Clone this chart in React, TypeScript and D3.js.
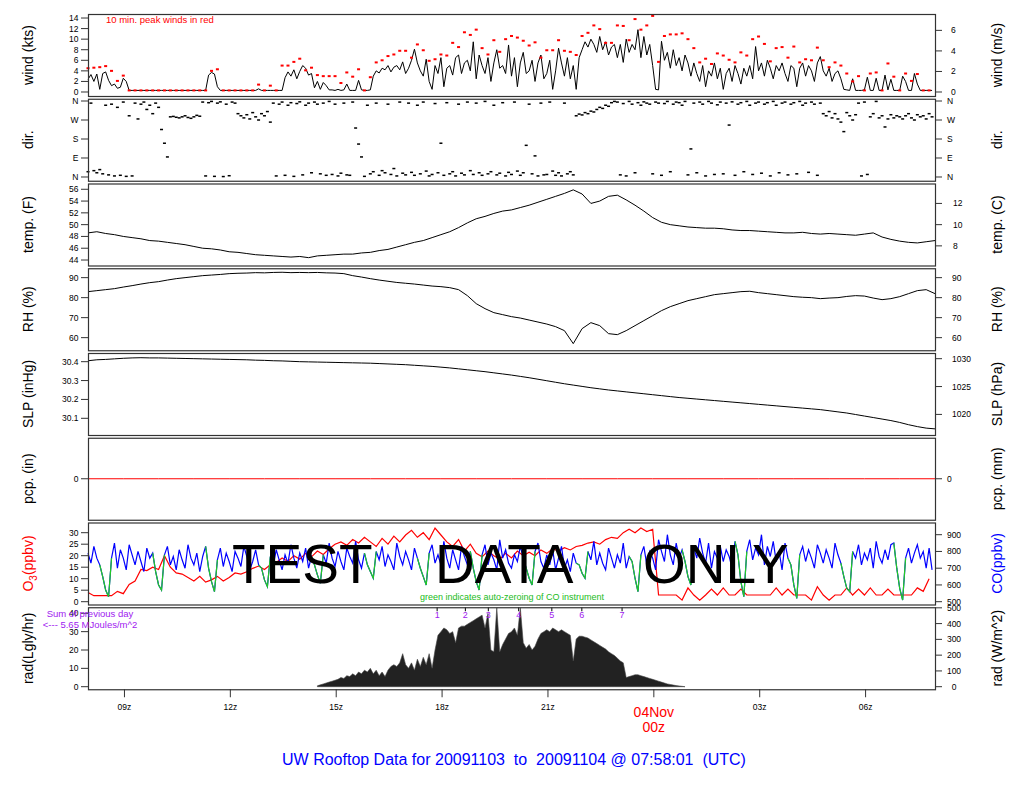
import React from "react";
import * as d3 from "d3";

// ---------------- time base (hours UTC since 00z 03 Nov 2009) ----------------
const startHour = 7.967; // 07:58 03 Nov
const endHour = 31.967; // 07:58 04 Nov

// ---------------- wind speed (kts), 5-min samples ----------------
const windKts = [
  2.4, 3.3, 2.0, 3.4, 0.5, 3.5, 3.8, 2.2, 1.2, 1.5, 0.7, 0.9, 2.6, 2.0,
  0.3, 0.3, 0.3, 0.3, 0.3, 0.3, 0.3, 0.3, 0.3, 0.3, 0.3, 0.3, 0.3, 0.3, 0.3, 0.3, 0.3, 0.3, 0.3, 0.3, 0.3, 0.3, 0.3, 0.3, 0.3, 0.3, 0.3,
  3.2, 3.7, 3.4, 1.0,
  0.3, 0.3, 0.3, 0.3, 0.3, 0.3, 0.3, 0.3, 0.3, 0.3, 0.3, 0.3, 0.3, 0.6, 0.3, 0.3, 0.3, 0.3, 0.3, 0.3, 0.3, 0.3,
  2.7, 3.8, 3.0, 4.2, 2.5, 3.9, 5.0, 4.5, 3.2, 3.5, 0.8, 2.0, 0.5, 1.8, 1.2, 0.4, 0.4, 0.3, 0.5,
  0.3, 0.4, 1.5, 0.3, 0.3, 0.3, 2.2, 0.4, 0.3, 0.3, 0.4, 3.0,
  4.0, 3.6, 4.5, 4.2, 5.0, 3.8, 4.7, 5.0, 4.2, 5.7, 3.5,
  4.5, 6.0, 8.1, 5.5, 4.0, 3.0, 6.2, 2.0, 0.5, 5.0, 3.5, 6.5, 1.0, 4.5, 5.0, 3.2, 6.5,
  7.0, 3.5, 5.5, 6.0, 4.0, 9.5, 2.5, 7.0, 5.0, 3.5, 6.5, 2.0, 5.5, 8.0, 4.5,
  5.0, 3.5, 8.9, 3.0, 6.5, 1.0, 5.5, 7.5, 3.5, 4.0, 6.0, 2.0, 5.5, 7.0, 2.5, 3.5, 6.0, 0.5, 4.0, 8.3, 5.5, 3.0, 6.5, 2.5, 5.0, 0.5, 6.5,
  8.0, 9.5, 8.5, 10.0, 9.0, 7.5, 10.5, 8.0, 9.5, 7.0, 8.5, 9.0, 6.5, 9.0, 5.6, 10.0, 7.5, 9.0, 8.0, 11.8, 6.5, 10.5, 7.0, 9.0, 5.0, 0.5,
  0.4, 9.6, 6.0, 7.5, 4.5, 8.0, 5.0, 6.5, 4.0, 7.0, 5.5, 3.0, 5.5,
  3.5, 2.0, 5.0, 1.0, 4.0, 3.0, 5.5, 2.5, 4.5, 0.5, 3.5, 4.5, 2.0, 5.0, 3.5, 1.5, 4.5, 3.0, 5.0, 2.5,
  8.6, 4.0, 5.5, 3.0, 6.0, 4.5, 2.5, 5.0, 4.0, 5.5, 3.5, 2.0, 5.0, 4.5, 1.0, 4.5, 5.5, 3.0, 5.0, 4.0, 2.0, 5.5, 6.7,
  4.0, 3.0, 4.5, 2.0, 3.5, 4.0, 2.5, 0.5, 0.4, 0.3, 2.5,
  0.3, 0.3, 0.3, 0.4, 2.8, 0.3, 0.3, 2.6, 0.3, 0.3, 3.2, 0.4, 2.4, 0.3, 0.3, 0.3, 3.0, 2.0, 0.3, 0.3, 3.5, 1.5, 0.3, 0.3, 0.3, 0.3, 0.3,
];

// ---------------- 10-min peak gusts (kts) ----------------
const peakKts = [
  4.5, 4.6, 4.7, 4.9, 4.0, 2.1, 3.1, 0.3, 0.3, 0.3,
  0.3, 0.3, 0.3, 0.3, 0.3, 0.3, 0.3, 0.3, 0.3, 0.3,
  0.3, 4.0, 4.3, 0.3, 0.3, 0.3, 0.3, 0.3, 0.3, 1.4,
  0.3, 1.2, 0.3, 5.0, 5.0, 5.7, 6.3, 4.1, 4.6, 3.2,
  3.0, 3.0, 3.0, 1.7, 3.7, 2.9, 4.3, 0.3, 2.8, 5.6,
  6.0, 6.8, 7.1, 7.8, 7.8, 6.5, 9.0, 7.9, 5.9, 6.2,
  7.1, 6.9, 9.3, 8.5, 11.3, 10.8, 11.8, 8.3, 7.1, 9.8,
  7.6, 10.0, 10.6, 10.3, 9.7, 8.8, 9.4, 6.5, 7.9, 7.9,
  9.8, 7.8, 7.6, 7.0, 10.6, 11.2, 12.6, 11.9, 9.3, 9.3,
  12.6, 12.5, 9.8, 13.8, 11.8, 12.6, 14.4, 5.7, 10.6, 10.9,
  10.9, 11.1, 10.0, 8.3, 5.6, 6.3, 5.3, 7.3, 6.9, 6.1,
  5.6, 7.5, 6.9, 10.0, 10.5, 9.1, 5.8, 8.3, 8.5, 6.5,
  8.6, 5.6, 6.2, 6.0, 8.4, 6.0, 4.7, 5.6, 5.0, 3.5,
  2.0, 3.0, 0.3, 3.5, 3.7, 0.3, 5.4, 2.9, 0.3, 3.5,
  2.1, 3.4, 0.3, 0.3,
];

// ---------------- wind direction (deg), 5-min samples ----------------
const windDir = [
  25, 350, 30, 20, 35, 15, 340, 10, 345, 5, 330, 8,
  355, 3, 290, 5, 350, 275, 345, 355, 320, 340, 300, 350,
  330, 225, 160, 95, 285, 287, 283, 280, 285, 290, 282, 278,
  285, 292, 288, 355, 5, 352, 358, 3, 350, 356, 2, 345,
  6, 355, 350, 300, 290, 280, 295, 275, 305, 285, 270, 300,
  290, 310, 260, 350, 5, 345, 355, 8, 340, 352, 3, 348,
  356, 10, 340, 350, 20, 355, 345, 15, 350, 8, 358, 12,
  345, 5, 18, 350, 10, 8, 355, 232, 156, 95, 3, 340,
  15, 25, 350, 8, 30, 20, 345, 12, 40, 5, 355, 18,
  10, 350, 22, 8, 340, 15, 355, 28, 5, 12, 348, 20,
  160, 8, 352, 15, 25, 5, 345, 18, 10, 355, 30, 12,
  350, 20, 8, 358, 15, 25, 340, 10, 18, 352, 5, 22,
  12, 355, 28, 8, 20, 150, 345, 15, 100, 5, 350, 10,
  12, 355, 28, 8, 20, 5, 350, 15, 25, 10, 290, 298,
  294, 305, 300, 312, 308, 320, 330, 325, 340, 335, 352, 358,
  355, 10, 348, 5, 358, 345, 20, 352, 340, 356, 350, 345,
  15, 355, 350, 8, 348, 358, 25, 345, 355, 352, 340, 358,
  10, 133, 350, 20, 355, 345, 5, 358, 350, 12, 342, 355,
  15, 350, 246, 356, 8, 345, 352, 25, 358, 340, 12, 350,
  355, 18, 345, 352, 5, 358, 340, 20, 350, 355, 10, 345,
  352, 15, 358, 340, 350, 22, 355, 345, 8, 350, 300, 290,
  310, 280, 300, 275, 260, 215, 305, 290, 270, 295, 350, 5,
  355, 12, 285, 300, 358, 280, 290, 237, 275, 295, 280, 290,
  285, 275, 290, 300, 280, 270, 295, 285, 290, 275, 300, 285,
];

// ---------------- temperature (F), RH (%), SLP (inHg), 15-min samples ----------------
const tempF = [
  48.6, 48.8, 48.5, 48.3, 48.0, 47.8, 47.6, 47.3, 47.2, 47.0,
  46.8, 46.6, 46.3, 46.0, 45.9, 45.7, 45.4, 45.3, 45.1, 44.9,
  44.8, 44.7, 44.6, 44.5, 44.6, 44.4, 44.7, 44.8, 44.9, 45.0,
  45.0, 45.2, 45.3, 45.6, 45.8, 46.2, 46.6, 47.0, 47.3, 47.8,
  48.3, 48.8, 49.5, 50.3, 51.0, 51.4, 51.9, 52.3, 52.5, 52.9,
  53.3, 53.8, 54.3, 54.8, 55.3, 55.9, 55.2, 53.6, 54.0, 54.8,
  55.0, 54.2, 53.3, 52.3, 51.2, 50.4, 50.0, 49.8, 49.6, 49.5,
  49.4, 49.4, 49.3, 49.1, 49.0, 49.0, 48.9, 48.8, 48.7, 48.6,
  48.6, 48.7, 48.5, 48.4, 48.5, 48.4, 48.3, 48.2, 48.4, 48.6,
  47.9, 47.5, 47.2, 47.0, 46.9, 47.1, 47.3,
];
const rhPct = [
  83.0, 83.5, 84.0, 84.5, 85.3, 86.0, 86.8, 87.5, 88.0, 88.8,
  89.5, 90.0, 90.5, 91.0, 91.3, 91.6, 92.0, 92.2, 92.3, 92.5,
  92.4, 92.6, 92.7, 92.5, 92.6, 92.5, 92.6, 92.4, 92.3, 92.0,
  91.0, 90.3, 89.5, 88.8, 88.2, 87.6, 87.2, 86.8, 86.3, 85.8,
  85.5, 85.0, 84.0, 81.0, 77.0, 74.5, 72.5, 71.5, 70.5, 69.8,
  68.8, 67.8, 66.8, 65.5, 63.5, 57.0, 64.5, 67.5, 66.0, 62.0,
  61.5, 63.5, 66.0, 68.5, 71.0, 73.5, 75.5, 77.0, 78.5, 79.5,
  80.5, 81.5, 82.0, 82.5, 83.0, 83.2, 82.5, 82.0, 81.5, 81.0,
  80.5, 80.2, 80.0, 79.5, 79.8, 80.0, 80.6, 81.0, 80.8, 79.8,
  79.0, 79.5, 80.5, 82.0, 83.5, 84.0, 82.0,
];
const slpInHg = [
  30.405, 30.41, 30.412, 30.415, 30.418, 30.42, 30.421, 30.42, 30.42, 30.419,
  30.418, 30.417, 30.416, 30.415, 30.414, 30.413, 30.412, 30.411, 30.41, 30.408,
  30.407, 30.405, 30.404, 30.402, 30.4, 30.399, 30.398, 30.397, 30.396, 30.395,
  30.394, 30.393, 30.392, 30.39, 30.388, 30.386, 30.384, 30.381, 30.378, 30.375,
  30.371, 30.367, 30.362, 30.357, 30.352, 30.347, 30.341, 30.335, 30.329, 30.322,
  30.315, 30.307, 30.299, 30.291, 30.283, 30.276, 30.269, 30.262, 30.256, 30.25,
  30.245, 30.24, 30.235, 30.23, 30.225, 30.22, 30.215, 30.21, 30.206, 30.202,
  30.198, 30.194, 30.19, 30.186, 30.182, 30.178, 30.174, 30.17, 30.166, 30.162,
  30.158, 30.154, 30.15, 30.146, 30.14, 30.134, 30.128, 30.12, 30.112, 30.104,
  30.096, 30.088, 30.078, 30.066, 30.056, 30.048, 30.044,
];

// ---------------- precipitation (in), hourly ----------------
const pcpIn = [0, 0, 0, 0, 0, 0, 0, 0, 0, 0, 0, 0, 0, 0, 0, 0, 0, 0, 0, 0, 0, 0, 0, 0, 0];

// ---------------- ozone (ppbv), 10-min samples ----------------
const o3Ppbv = [
  4, 2.6, 2.6, 2.6, 2.6, 4.5, 3.5, 7.5, 9.0, 14,
  13.5, 15, 14, 20, 15, 12.5, 12, 10.5, 9, 11,
  8.5, 9.5, 11, 9, 10.5, 12.5, 12, 13, 14.5, 15.5,
  14, 16, 17, 19, 17.5, 20, 18.5, 21, 19.5, 22,
  20.5, 23, 25, 26, 24.5, 27, 25.5, 28, 26, 24,
  27.5, 25, 28.5, 26, 29, 31, 28, 30, 27, 32,
  29, 26, 24, 27, 22, 25, 21, 19.5, 22, 20,
  18.5, 21, 19, 22, 20, 21.5, 20, 22.5, 21, 23,
  22, 23.5, 22.5, 24, 24.5, 25.5, 26, 25, 27, 28,
  27.5, 30, 31.5, 30, 32, 30.5, 31.5, 2.9, 2.9, 2.9,
  2.9, 0.7, 6.0, 2.9, 0.7, 2.9, 5.5, 2.9, 6.0, 2.9,
  2.9, 5.5, 2.9, 2.9, 2.9, 2.9, 2.9, 6.0, 2.9, 5.5,
  2.9, 2.9, 2.9, 0.7, 6.5, 2.9, 0.7, 2.9, 2.9, 6.0,
  2.9, 5.5, 2.9, 6.0, 2.9, 2.9, 5.5, 2.9, 2.9, 2.9,
  2.9, 6.0, 4.5, 10,
];

// ---------------- CO (ppbv), 5-min samples ----------------
const coPpbv = [
  790, 730, 830, 760, 720, 650, 570, 530, 760, 850, 700, 810,
  760, 690, 840, 780, 720, 800, 740, 680, 820, 760, 790, 680,
  600, 570, 780, 830, 720, 770, 690, 810, 750, 700, 840, 760,
  720, 790, 680, 770, 830, 700, 620, 560, 750, 820, 710, 790,
  740, 680, 800, 760, 710, 830, 770, 690, 740, 810, 720, 700,
  630, 590, 770, 720, 810, 750, 690, 780, 730, 840, 760, 700,
  790, 740, 820, 700, 770, 720, 660, 610, 780, 730, 850, 760,
  710, 800, 740, 690, 820, 770, 730, 860, 750, 700, 790, 720,
  680, 640, 800, 750, 830, 710, 780, 740, 690, 850, 770, 720,
  800, 750, 690, 820, 760, 700, 650, 600, 790, 840, 730, 780,
  720, 860, 760, 700, 810, 750, 690, 830, 770, 720, 800, 700,
  620, 570, 780, 840, 720, 790, 750, 690, 870, 760, 810, 730,
  700, 780, 740, 830, 760, 700, 640, 600, 800, 850, 740, 700,
  780, 720, 810, 690, 760, 830, 700, 750, 680, 790, 730, 720,
  670, 640, 800, 750, 860, 720, 790, 730, 690, 820, 760, 700,
  780, 730, 850, 700, 770, 740, 640, 560, 780, 830, 720, 800,
  760, 690, 870, 800, 740, 900, 780, 720, 850, 760, 810, 740,
  650, 600, 820, 760, 880, 790, 730, 850, 700, 800, 760, 830,
  740, 810, 770, 700, 860, 780, 620, 530, 800, 870, 750, 820,
  780, 900, 720, 830, 770, 860, 740, 800, 690, 850, 760, 720,
  600, 520, 780, 830, 740, 810, 760, 700, 840, 790, 730, 810,
  760, 700, 850, 780, 730, 650, 580, 560, 800, 760, 840, 720,
  790, 750, 820, 700, 860, 770, 730, 810, 750, 840, 850, 700,
  580, 510, 760, 820, 730, 790, 840, 760, 800, 700, 820, 690,
];
// start times (hours UTC) of the CO auto-zeroing cycles
const coZeroHours = [8.33, 9.83, 11.33, 12.83, 14.33, 15.83, 17.33, 18.83, 20.33, 21.83, 23.33, 24.83, 26.33, 27.83, 29.33, 30.83];

// ---------------- solar radiation (ly/hr), 5-min samples from radStartHour ----------------
const radStartHour = 14.467;
const radLyHr = [
  0.5, 1, 1.5, 2, 2.5, 3, 3.5, 4, 5, 4.5,
  6, 5.5, 7, 6, 8, 7, 9, 8, 10, 7,
  9, 6, 8, 5.5, 9, 11, 12, 11, 13, 18,
  12, 10, 13, 9, 15, 11, 16, 12, 18, 10,
  20, 28, 30, 32, 31, 29, 30, 24, 32, 33,
  33, 34, 35, 36, 37, 38, 39, 32, 40, 20,
  19, 43, 19, 23, 26, 29, 30, 32, 28, 43,
  24, 21, 23, 20, 22, 26, 29, 30, 31, 30,
  32, 31, 30, 31, 30, 29, 28, 14, 26, 27.5,
  27.5, 27, 26.5, 25.5, 24.5, 23.5, 22.5, 21.5, 20.5, 19,
  18, 17, 15.5, 14, 13, 5, 5.5, 6, 6.5, 6.5,
  6, 5.5, 5, 4.5, 4, 3.5, 3, 2.5, 2, 1.5,
  1.2, 0.9, 0.6, 0.4, 0.2, 0,
];
const photoHours = [17.86, 18.66, 19.31, 20.17, 21.11, 21.96, 23.1];
const photoLabels = ["1", "2", "3", "4", "5", "6", "7"];

// ---------------- axis ticks ----------------
const xTickHours = [9, 12, 15, 18, 21, 24, 27, 30];
const xTickLabels = ["09z", "12z", "15z", "18z", "21z", "00z", "03z", "06z"];
const windTicksKts = [0, 2, 4, 6, 8, 10, 12, 14];
const windTicksMs = [0, 2, 4, 6];
const dirTicks = [0, 90, 180, 270, 360];
const dirLabels = ["N", "E", "S", "W", "N"];
const tempTicksF = [44, 46, 48, 50, 52, 54, 56];
const tempTicksC = [8, 10, 12];
const rhTicks = [60, 70, 80, 90];
const slpTicksIn = [30.1, 30.2, 30.3, 30.4];
const slpTicksHpa = [1020, 1025, 1030];
const o3Ticks = [0, 5, 10, 15, 20, 25, 30];
const coTicks = [500, 600, 700, 800, 900];
const radTicksLy = [0, 10, 20, 30, 40];
const radTicksW = [0, 100, 200, 300, 400, 500];

const FONT = "'Liberation Sans', Arial, Helvetica, sans-serif";
const PURPLE = "#a020f0";

export default function App() {
  const L = 88, R = 935, PH = 82;
  const topOf = (k: number) => 14 + k * 84.75;
  const x = d3.scaleLinear().domain([startHour, endHour]).range([L, R]);
  const yS = (k: number, d0: number, d1: number) =>
    d3.scaleLinear().domain([d0, d1]).range([topOf(k) + PH, topOf(k)]);

  const yWind = yS(0, -0.757, 14.76);
  const yDir = yS(1, -17.8, 370.7);
  const yTemp = yS(2, 43.07, 56.98);
  const yRh = yS(3, 53.7, 94.7);
  const ySlp = yS(4, 30.0115, 30.446);
  const yPcp = yS(5, -1, 1);
  const yO3 = yS(6, -1.22, 34.43);
  const yCo = yS(6, 483.3, 972.8);
  const yRad = yS(7, -1.39, 43.3);

  const t5 = (i: number) => startHour + (i * 5) / 60;
  const t10 = (i: number) => startHour + (i * 10) / 60;
  const t15 = (i: number) => startHour + (i * 15) / 60;

  const lineOf = (vals: number[], tf: (i: number) => number, y: d3.ScaleLinear<number, number>) =>
    d3.line<number>().x((_, i) => x(tf(i))).y((d) => y(d))(vals) || "";

  const windPath = lineOf(windKts, t5, yWind);
  const tempPath = lineOf(tempF, t15, yTemp);
  const rhPath = lineOf(rhPct, t15, yRh);
  const slpPath = lineOf(slpInHg, t15, ySlp);
  const pcpPath = lineOf(pcpIn, (i) => startHour + i, yPcp);
  const o3Path = lineOf(o3Ppbv, t10, yO3);
  const coPath = lineOf(coPpbv, t5, yCo);
  const coGreen = coZeroHours.map((h) => {
    const pts = coPpbv
      .map((v, i) => ({ t: t5(i), v }))
      .filter((p) => p.t >= h - 0.05 && p.t <= h + 0.35);
    return d3.line<{ t: number; v: number }>().x((p) => x(p.t)).y((p) => yCo(p.v))(pts) || "";
  });
  const radArea =
    d3
      .area<number>()
      .x((_, i) => x(radStartHour + (i * 5) / 60))
      .y0(yRad(0))
      .y1((d) => yRad(d))(radLyHr) || "";

  type Tick = { v: number; label: string };
  type Panel = {
    k: number;
    y: d3.ScaleLinear<number, number>;
    left: Tick[];
    right: Tick[];
    leftTitle: React.ReactNode;
    rightTitle: React.ReactNode;
    rightX: number;
    rightAnchor: string;
  };

  const panels: Panel[] = [
    {
      k: 0, y: yWind,
      left: windTicksKts.map((v) => ({ v, label: String(v) })),
      right: windTicksMs.map((v) => ({ v: v * 1.94384, label: String(v) })),
      leftTitle: "wind (kts)", rightTitle: "wind (m/s)", rightX: 951, rightAnchor: "start",
    },
    {
      k: 1, y: yDir,
      left: dirTicks.map((v, i) => ({ v, label: dirLabels[i] })),
      right: dirTicks.map((v, i) => ({ v, label: dirLabels[i] })),
      leftTitle: "dir.", rightTitle: "dir.", rightX: 947, rightAnchor: "start",
    },
    {
      k: 2, y: yTemp,
      left: tempTicksF.map((v) => ({ v, label: String(v) })),
      right: tempTicksC.map((v) => ({ v: (v * 9) / 5 + 32, label: String(v) })),
      leftTitle: "temp. (F)", rightTitle: "temp. (C)", rightX: 953, rightAnchor: "start",
    },
    {
      k: 3, y: yRh,
      left: rhTicks.map((v) => ({ v, label: String(v) })),
      right: rhTicks.map((v) => ({ v, label: String(v) })),
      leftTitle: "RH (%)", rightTitle: "RH (%)", rightX: 952, rightAnchor: "start",
    },
    {
      k: 4, y: ySlp,
      left: slpTicksIn.map((v) => ({ v, label: v.toFixed(1) })),
      right: slpTicksHpa.map((v) => ({ v: v / 33.8639, label: String(v) })),
      leftTitle: "SLP (inHg)", rightTitle: "SLP (hPa)", rightX: 952, rightAnchor: "start",
    },
    {
      k: 5, y: yPcp,
      left: [{ v: 0, label: "0" }],
      right: [{ v: 0, label: "0" }],
      leftTitle: "pcp. (in)", rightTitle: "pcp. (mm)", rightX: 947, rightAnchor: "start",
    },
    {
      k: 6, y: yO3,
      left: o3Ticks.map((v) => ({ v, label: String(v) })),
      right: coTicks.map((v) => ({ v: yO3.invert(yCo(v)), label: String(v) })),
      leftTitle: (
        <tspan fill="#ff0000">
          O<tspan fontSize={10} dy={4}>3</tspan>
          <tspan dy={-4}>(ppbv)</tspan>
        </tspan>
      ),
      rightTitle: <tspan fill="#0000ff">CO(ppbv)</tspan>,
      rightX: 954, rightAnchor: "middle",
    },
    {
      k: 7, y: yRad,
      left: radTicksLy.map((v) => ({ v, label: String(v) })),
      right: radTicksW.map((v) => ({ v: v / 11.63, label: String(v) })),
      leftTitle: "rad(Lgly/hr)", rightTitle: "rad (W/m^2)", rightX: 954, rightAnchor: "middle",
    },
  ];

  const yRadTop = topOf(7);
  const yBottom = topOf(7) + PH;

  return (
    <svg
      width={1024}
      height={800}
      viewBox="0 0 1024 800"
      style={{ position: "absolute", left: 0, top: 0, background: "#fff" }}
      fontFamily={FONT}
    >
      <rect x={0} y={0} width={1024} height={800} fill="#fff" />

      {/* data */}
      <path d={windPath} fill="none" stroke="#000" strokeWidth={1} />
      {peakKts.map((v, i) => (
        <rect key={"pk" + i} x={x(t10(i)) - 1.5} y={yWind(v) - 1} width={3} height={2} fill="#ff0000" />
      ))}
      <text x={106} y={23} fontSize={9.5} fill="#ff0000">10 min. peak winds in red</text>

      {windDir.map((v, i) => (
        <rect key={"dr" + i} x={x(t5(i)) - 1.5} y={yDir(v) - 0.75} width={3} height={1.5} fill="#000" />
      ))}

      <path d={tempPath} fill="none" stroke="#000" strokeWidth={1} />
      <path d={rhPath} fill="none" stroke="#000" strokeWidth={1} />
      <path d={slpPath} fill="none" stroke="#000" strokeWidth={1} />
      <path d={pcpPath} fill="none" stroke="#ff0000" strokeWidth={1} />

      <path d={o3Path} fill="none" stroke="#ff0000" strokeWidth={1.2} />
      <path d={coPath} fill="none" stroke="#0000ff" strokeWidth={1.2} />
      {coGreen.map((d, i) => (
        <path key={"cg" + i} d={d} fill="none" stroke="#22cc22" strokeWidth={1.2} />
      ))}
      <text x={512} y={600} fontSize={9} fill="#22bb22" textAnchor="middle">
        green indicates auto-zeroing of CO instrument
      </text>

      <path d={radArea} fill="#222" stroke="#444" strokeWidth={0.6} />
      {photoHours.map((h, i) => (
        <g key={"ph" + i}>
          <line x1={x(h)} x2={x(h)} y1={yRadTop} y2={yRadTop + 4} stroke="#000" />
          <text x={x(h)} y={yRadTop + 10.5} fontSize={9} fill={PURPLE} textAnchor="middle">
            {photoLabels[i]}
          </text>
        </g>
      ))}

      {/* frames and axes */}
      {panels.map((p) => {
        const t = topOf(p.k);
        const mid = t + PH / 2;
        return (
          <g key={"pn" + p.k}>
            <rect x={L + 0.5} y={t + 0.5} width={R - L} height={PH} fill="none" stroke="#333" strokeWidth={1.2} />
            {p.left.map((tk, i) => (
              <g key={"l" + i}>
                <line x1={L - 7} x2={L} y1={p.y(tk.v)} y2={p.y(tk.v)} stroke="#333" />
                <text x={78.5} y={p.y(tk.v)} dy="0.35em" fontSize={8.5} textAnchor="end">
                  {tk.label}
                </text>
              </g>
            ))}
            {p.right.map((tk, i) => (
              <g key={"r" + i}>
                <line x1={R} x2={R + 7} y1={p.y(tk.v)} y2={p.y(tk.v)} stroke="#333" />
                <text x={p.rightX} y={p.y(tk.v)} dy="0.35em" fontSize={8.5} textAnchor={p.rightAnchor as any}>
                  {tk.label}
                </text>
              </g>
            ))}
            <text transform={`translate(33,${mid}) rotate(-90)`} fontSize={14} textAnchor="middle">
              {p.leftTitle}
            </text>
            <text transform={`translate(1002,${mid}) rotate(-90)`} fontSize={14} textAnchor="middle">
              {p.rightTitle}
            </text>
          </g>
        );
      })}

      {/* x axis */}
      {xTickHours.map((h, i) => (
        <g key={"xt" + i}>
          <line x1={x(h)} x2={x(h)} y1={yBottom} y2={yBottom + 8} stroke="#333" />
          {h === 24 ? (
            <>
              <text x={x(h)} y={717} fontSize={14} fill="#ff0000" textAnchor="middle">04Nov</text>
              <text x={x(h)} y={731.5} fontSize={14} fill="#ff0000" textAnchor="middle">{xTickLabels[i]}</text>
            </>
          ) : (
            <text x={x(h)} y={710} fontSize={8.5} textAnchor="middle">{xTickLabels[i]}</text>
          )}
        </g>
      ))}

      {/* annotations */}
      <text x={90} y={617} fontSize={9.5} fill={PURPLE} textAnchor="middle">Sum of previous day</text>
      <text x={90} y={627.5} fontSize={9.5} fill={PURPLE} textAnchor="middle">{"<--- 5.65 MJoules/m^2"}</text>

      <g fontSize={55} fill="#000">
        <text x={232} y={583}>TEST</text>
        <text x={435} y={583}>DATA</text>
        <text x={643} y={583}>ONLY</text>
      </g>

      <text x={514} y={765} fontSize={16} fill="#0000ff" textAnchor="middle" xmlSpace="preserve" style={{ whiteSpace: "pre" }}>
        {"UW Rooftop Data for 20091103  to  20091104 @ 07:58:01  (UTC)"}
      </text>
    </svg>
  );
}
